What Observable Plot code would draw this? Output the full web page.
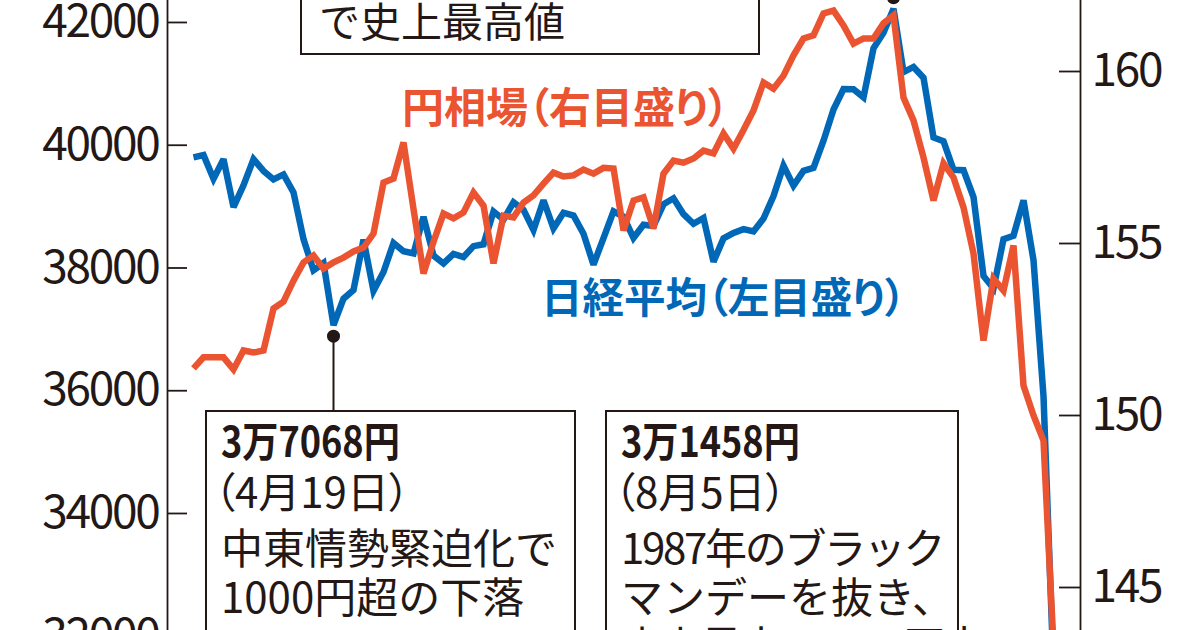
<!DOCTYPE html>
<html>
<head>
<meta charset="utf-8">
<script src="https://cdn.jsdelivr.net/npm/d3@7"></script>
<script src="https://cdn.jsdelivr.net/npm/@observablehq/plot@0.6"></script>
<style>
html, body { margin: 0; padding: 0; background: #fff; }
#wrap { position: relative; width: 1200px; height: 630px; overflow: hidden; background: #fff; font-family: "Noto Sans CJK JP", sans-serif; color: #231815; }
#chart { position: absolute; left: 0; top: 0; }
.box { position: absolute; border: 2px solid #231815; background: #fff; box-sizing: border-box; }
.t { position: absolute; white-space: nowrap; line-height: 1; font-family: "Noto Sans CJK JP", sans-serif; color: #231815; transform-origin: 0 50%; }
.b { font-weight: 700; }
.p { font-feature-settings: "palt"; }
</style>
</head>
<body>
<div id="wrap"><div id="chart"></div><div id="notes"></div></div>
<script>
// ---- data (trading days, 2024-04-01 .. 2024-08-05) ----
const dates = [
  "04-01","04-02","04-03","04-04","04-05","04-08","04-09","04-10","04-11","04-12","04-15","04-16","04-17","04-18","04-19","04-22","04-23","04-24","04-25","04-26","04-30",
  "05-01","05-02","05-07","05-08","05-09","05-10","05-13","05-14","05-15","05-16","05-17","05-20","05-21","05-22","05-23","05-24","05-27","05-28","05-29","05-30","05-31",
  "06-03","06-04","06-05","06-06","06-07","06-10","06-11","06-12","06-13","06-14","06-17","06-18","06-19","06-20","06-21","06-24","06-25","06-26","06-27","06-28",
  "07-01","07-02","07-03","07-04","07-05","07-08","07-09","07-10","07-11","07-12","07-16","07-17","07-18","07-19","07-22","07-23","07-24","07-25","07-26","07-29","07-30","07-31",
  "08-01","08-02","08-05"
];
const nikkei = [
  39803, 39839, 39452, 39773, 38992, 39347, 39773, 39582, 39443, 39524, 39233, 38471, 37962, 38080, 37068, 37500, 37640, 38460, 37628, 37935, 38406,
  38274, 38236, 38835, 38202, 38074, 38229, 38179, 38356, 38386, 38920, 38787, 39070, 38947, 38617, 39103, 38646, 38900, 38855, 38557, 38054, 38488,
  38923, 38837, 38490, 38704, 38684, 39038, 39135, 38877, 38720, 38815, 38102, 38482, 38571, 38633, 38596, 38805, 39173, 39667, 39342, 39583,
  39631, 40075, 40581, 40914, 40912, 40781, 41580, 41832, 42224, 41191, 41275, 41098, 40126, 40064, 39599, 39594, 39155, 37870, 37667, 38469, 38526, 39102,
  38126, 35910, 31458
];
const usdjpy = [
  151.37, 151.69, 151.69, 151.69, 151.34, 151.89, 151.83, 151.89, 153.11, 153.31, 153.92, 154.45, 154.65, 154.27, 154.45, 154.59, 154.77, 154.88, 155.29, 156.77, 156.89,
  157.94, 156.00, 154.13, 155.05, 155.87, 155.73, 155.90, 156.48, 156.10, 154.42, 155.81, 155.76, 156.19, 156.40, 156.74, 157.06, 156.95, 156.98, 157.15, 157.03, 157.20,
  157.18, 155.38, 156.25, 156.34, 155.44, 157.03, 157.41, 157.35, 157.47, 157.70, 157.62, 158.20, 157.76, 158.30, 158.87, 159.68, 159.50, 159.88, 160.47, 160.96,
  161.05, 161.69, 161.77, 161.34, 160.81, 160.96, 160.96, 161.40, 161.63, 159.24, 158.58, 157.50, 156.25, 157.33, 156.92, 156.05, 154.71, 152.18, 153.98, 153.63, 154.94, 150.87,
  150.00, 149.27, 143.30
];
const nikkeiTicks = [32000, 34000, 36000, 38000, 40000, 42000];
const yenTicks = [145, 150, 155, 160];
const lowIndex = 14;   // 4月19日
const peakIndex = 70;  // 7月11日

// ---- layout / style ----
const BLUE = "#0068b7", ORANGE = "#ea5430", INK = "#231815";
const W = 1200, H = 700;
const xDomain = [-2.6, 88.7];
const yDomain = [30953, 42358];
const yenDomain = [141.715, 162.064];
const yenToN = d3.scaleLinear(yenDomain, yDomain);
const yPix = d3.scaleLinear(yDomain, [H, 0]);
const boxTop = 410;

const rows = dates.map((d, i) => ({i, date: d, nikkei: nikkei[i], yen: usdjpy[i]}));
const lineStyle = {strokeWidth: 6.5, strokeLinejoin: "miter", strokeMiterlimit: 3, strokeLinecap: "butt"};

const chart = Plot.plot({
  width: W, height: H,
  marginTop: 0, marginBottom: 0, marginLeft: 167, marginRight: 120,
  x: {domain: xDomain, axis: null},
  y: {domain: yDomain, axis: null},
  style: {fontFamily: '"Noto Sans CJK JP", sans-serif', background: "transparent", color: INK},
  marks: [
    Plot.ruleX([xDomain[0], xDomain[1]], {stroke: INK, strokeWidth: 1.8}),
    Plot.ruleY(nikkeiTicks, {x1: xDomain[0], x2: xDomain[0] + 2.0, stroke: INK, strokeWidth: 1.8}),
    Plot.ruleY(yenTicks, {y: v => yenToN(v), x1: xDomain[1] - 2.1, x2: xDomain[1], stroke: INK, strokeWidth: 1.8}),
    Plot.axisY(nikkeiTicks, {anchor: "left", tickSize: 0, tickPadding: 9, fontSize: 46, tickFormat: d => String(d), label: null}),
    Plot.axisY(yenTicks.map(v => yenToN(v)), {anchor: "right", tickSize: 0, tickPadding: 11, fontSize: 46, tickFormat: d => String(Math.round(yenToN.invert(d))), label: null}),
    Plot.line(rows, {x: "i", y: "nikkei", stroke: BLUE, ...lineStyle}),
    Plot.line(rows, {x: "i", y: d => yenToN(d.yen), stroke: ORANGE, ...lineStyle}),
    Plot.ruleX([lowIndex], {y1: yPix.invert(yPix(nikkei[lowIndex]) + 11), y2: yPix.invert(boxTop), stroke: INK, strokeWidth: 2}),
    Plot.dot([lowIndex], {x: d => d, y: d => nikkei[d], dy: 11, r: 6.5, fill: INK, stroke: null}),
    Plot.ruleX([peakIndex], {y1: yPix.invert(yPix(nikkei[peakIndex]) - 11), y2: yDomain[1], stroke: INK, strokeWidth: 2}),
    Plot.dot([peakIndex], {x: d => d, y: d => nikkei[d], dy: -11, r: 6.5, fill: INK, stroke: null})
  ]
});
// condensed digits on the axes, like the reference
chart.querySelectorAll("g[aria-label='y-axis tick label'] text").forEach(t => t.setAttribute("letter-spacing", "-2.3"));
document.getElementById("chart").appendChild(chart);

// ---- text annotations ----
const notes = [
  {box: [300, -70, 460, 125]},
  {text: "で史上最高値", x: 319, cy: 22, size: 41},
  {text: "円相場（右目盛り）", x: 402, cy: 107, size: 42, bold: true, palt: true, color: ORANGE},
  {text: "日経平均（左目盛り）", x: 541, cy: 298, size: 41.5, bold: true, palt: true, color: BLUE},
  {box: [205, boxTop, 371, 300]},
  {text: "3万7068円", x: 221, cy: 441, size: 42, bold: true, sx: 0.86},
  {text: "（4月19日）", x: 214, cy: 492, size: 42, palt: true},
  {text: "中東情勢緊迫化で", x: 221, cy: 548, size: 42},
  {text: "1000円超の下落", x: 221, cy: 597, size: 42},
  {box: [605, boxTop, 354, 300]},
  {text: "3万1458円", x: 621, cy: 441, size: 42, bold: true, sx: 0.86},
  {text: "（8月5日）", x: 614, cy: 492, size: 42, palt: true},
  {text: "1987年のブラック", x: 621, cy: 548, size: 42, ls: -2.3},
  {text: "マンデーを抜き、", x: 621, cy: 597, size: 42},
  {text: "史上最大の4451円安", x: 621, cy: 646, size: 42, ls: -2.3}
];
const host = document.getElementById("notes");
for (const n of notes) {
  const el = document.createElement("div");
  if (n.box) {
    el.className = "box";
    Object.assign(el.style, {left: n.box[0] + "px", top: n.box[1] + "px", width: n.box[2] + "px", height: n.box[3] + "px"});
  } else {
    el.className = "t" + (n.bold ? " b" : "") + (n.palt ? " p" : "");
    el.textContent = n.text;
    Object.assign(el.style, {left: n.x + "px", top: (n.cy - n.size * 0.55) + "px", fontSize: n.size + "px", color: n.color || INK});
    if (n.sx) el.style.transform = `scaleX(${n.sx})`;
    if (n.ls) el.style.letterSpacing = n.ls + "px";
  }
  host.appendChild(el);
}
</script>
</body>
</html>
